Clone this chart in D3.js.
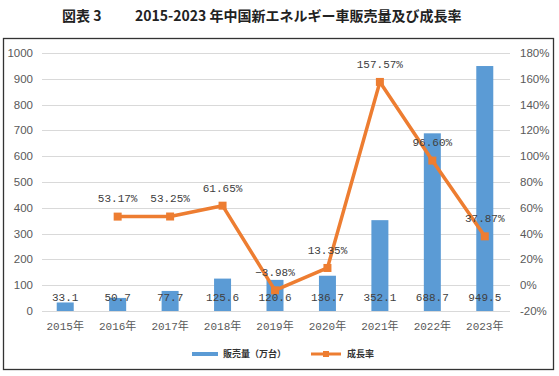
<!DOCTYPE html>
<meta charset="utf-8">
<script src="https://d3js.org/d3.v7.min.js"></script>
<style>
  html, body { margin: 0; padding: 0; background: #fff; }
  svg { display: block; }
</style>
<body>
<div id="chart"></div>
<script>

var years = ["2015年","2016年","2017年","2018年","2019年","2020年","2021年","2022年","2023年"];
var sales = [33.1, 50.7, 77.7, 125.6, 120.6, 136.7, 352.1, 688.7, 949.5];
var growth = [null, 53.17, 53.25, 61.65, -3.98, 13.35, 157.57, 96.60, 37.87];
var leftTicks = [0,100,200,300,400,500,600,700,800,900,1000];
var rightTicks = [-20,0,20,40,60,80,100,120,140,160,180];

var width = 559, height = 376;
var monoFont = "'Liberation Mono','Noto Sans CJK JP',monospace";
var cjkFont = "'Noto Sans CJK JP',sans-serif";

var svg = d3.select("#chart")
  .append("svg")
    .attr("width", width)
    .attr("height", height);

// title
svg.append("text")
  .attr("x", 62).attr("y", 21)
  .style("font-family", cjkFont).style("font-size", "14px").style("font-weight", "bold")
  .attr("fill", "#222")
  .text("図表 3");
svg.append("text")
  .attr("x", 135).attr("y", 21)
  .style("font-family", cjkFont).style("font-size", "14px").style("font-weight", "bold")
  .attr("fill", "#222")
  .text("2015-2023 年中国新エネルギー車販売量及び成長率");

// frame
svg.append("rect")
  .attr("x", 3.5).attr("y", 38.5)
  .attr("width", 550).attr("height", 331)
  .attr("fill", "none").attr("stroke", "#333").attr("stroke-width", 1.3);

var x = d3.scaleBand().domain(years).range([39, 511]).padding(0);
var yL = d3.scaleLinear().domain([0, 1000]).range([311, 53]);
var yR = d3.scaleLinear().domain([-20, 180]).range([311, 53]);

// gridlines
svg.append("g").selectAll("line")
  .data(leftTicks)
  .enter().append("line")
    .attr("x1", 42).attr("x2", 510)
    .attr("y1", function(d){ return Math.round(yL(d)) + 0.5; })
    .attr("y2", function(d){ return Math.round(yL(d)) + 0.5; })
    .attr("stroke", "#d9d9d9").attr("stroke-width", 1);

// left axis labels
svg.append("g").selectAll("text")
  .data(leftTicks)
  .enter().append("text")
    .attr("x", 33).attr("y", function(d){ return yL(d); })
    .attr("dy", "0.35em")
    .attr("text-anchor", "end")
    .style("font-family", "'Liberation Sans',Arial,sans-serif").style("font-size", "11.5px")
    .attr("fill", "#595959")
    .text(function(d){ return d; });

// right axis labels
svg.append("g").selectAll("text")
  .data(rightTicks)
  .enter().append("text")
    .attr("x", 520).attr("y", function(d){ return yR(d); })
    .attr("dy", "0.35em")
    .style("font-family", "'Liberation Sans',Arial,sans-serif").style("font-size", "11.5px")
    .attr("fill", "#595959")
    .text(function(d){ return d + "%"; });

// x labels
svg.append("g").selectAll("text")
  .data(years)
  .enter().append("text")
    .attr("x", function(d){ return x(d) + x.bandwidth()/2; })
    .attr("y", 326).attr("dy", "0.35em")
    .attr("text-anchor", "middle")
    .style("font-family", monoFont).style("font-size", "11px")
    .attr("fill", "#595959")
    .text(function(d){ return d; });

// bars
var bw = 17;
svg.append("g").selectAll("rect")
  .data(sales)
  .enter().append("rect")
    .attr("x", function(d, i){ return x(years[i]) + x.bandwidth()/2 - bw/2; })
    .attr("y", function(d){ return yL(d); })
    .attr("width", bw)
    .attr("height", function(d){ return yL(0) - yL(d); })
    .attr("fill", "#5b9bd5");

// line
var pts = growth.map(function(g, i){ return {year: years[i], value: g}; })
  .filter(function(d){ return d.value !== null; });

svg.append("path")
  .datum(pts)
  .attr("d", d3.line()
    .x(function(d){ return x(d.year) + x.bandwidth()/2; })
    .y(function(d){ return yR(d.value); }))
  .attr("fill", "none")
  .attr("stroke", "#ed7d31")
  .attr("stroke-width", 3.5)
  .attr("stroke-linejoin", "round");

svg.append("g").selectAll("rect")
  .data(pts)
  .enter().append("rect")
    .attr("x", function(d){ return x(d.year) + x.bandwidth()/2 - 4; })
    .attr("y", function(d){ return yR(d.value) - 4; })
    .attr("width", 8).attr("height", 8)
    .attr("fill", "#ed7d31");

// bar labels
svg.append("g").selectAll("text")
  .data(sales)
  .enter().append("text")
    .attr("x", function(d, i){ return x(years[i]) + x.bandwidth()/2; })
    .attr("y", 297).attr("dy", "0.35em")
    .attr("text-anchor", "middle")
    .style("font-family", monoFont).style("font-size", "11px")
    .attr("fill", "#404040")
    .text(function(d){ return d; });

// line labels
var fmt = d3.format(".2f");
svg.append("g").selectAll("text")
  .data(pts)
  .enter().append("text")
    .attr("x", function(d){ return x(d.year) + x.bandwidth()/2; })
    .attr("y", function(d){ return yR(d.value) - 18; }).attr("dy", "0.35em")
    .attr("text-anchor", "middle")
    .style("font-family", monoFont).style("font-size", "11px")
    .attr("fill", "#404040")
    .text(function(d){ return fmt(d.value) + "%"; });

// legend
svg.append("rect")
  .attr("x", 192).attr("y", 352).attr("width", 26).attr("height", 4)
  .attr("fill", "#5b9bd5");
svg.append("text")
  .attr("x", 223).attr("y", 354).attr("dy", "0.35em")
  .style("font-family", cjkFont).style("font-size", "9px").style("font-weight", "bold")
  .attr("fill", "#333")
  .text("販売量（万台）");
svg.append("line")
  .attr("x1", 311).attr("x2", 341).attr("y1", 354).attr("y2", 354)
  .attr("stroke", "#ed7d31").attr("stroke-width", 3);
svg.append("rect")
  .attr("x", 323).attr("y", 351).attr("width", 6).attr("height", 6)
  .attr("fill", "#ed7d31");
svg.append("text")
  .attr("x", 347).attr("y", 354).attr("dy", "0.35em")
  .style("font-family", cjkFont).style("font-size", "9px").style("font-weight", "bold")
  .attr("fill", "#333")
  .text("成長率");

</script>
</body>
